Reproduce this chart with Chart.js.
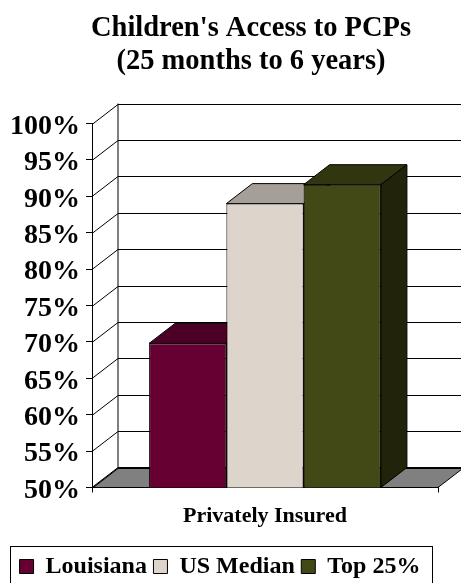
<!DOCTYPE html>
<html>
<head>
<meta charset="utf-8">
<title>Children's Access to PCPs</title>
<script src="https://cdn.jsdelivr.net/npm/chart.js@4"></script>
<style>
  html, body { margin: 0; padding: 0; background: #fff; overflow: hidden; }
  canvas { display: block; }
</style>
</head>
<body>
<canvas id="pcpChart" width="461" height="583"></canvas>
<script>
const categories = ['Privately Insured'];
const seriesNames = ['Louisiana', 'US Median', 'Top 25%'];
const louisiana = [69.8];
const usMedian = [89];
const top25 = [91.6];

const frontColors = ['#660033', '#DDD5CC', '#424816'];
const topColors = ['#4D0026', '#A69F99', '#31360F'];
const sideColors = ['#33001A', '#6F6A66', '#21240A'];
const serifFont = '"Liberation Serif", "Times New Roman", serif';

// how far the back wall sits from the front plane
const depthX = 26;
const depthY = 20;

const polygon = (ctx, points, fill) => {
  ctx.beginPath();
  points.forEach((p, i) => (i ? ctx.lineTo(p[0], p[1]) : ctx.moveTo(p[0], p[1])));
  ctx.closePath();
  if (fill) {
    ctx.fillStyle = fill;
    ctx.fill();
  }
  ctx.stroke();
};

const line = (ctx, x1, y1, x2, y2) => {
  ctx.beginPath();
  ctx.moveTo(x1, y1);
  ctx.lineTo(x2, y2);
  ctx.stroke();
};

const box3d = {
  id: 'box3d',
  afterLayout(chart) {
    // title and legend are not centred on the canvas in the original
    chart.titleBlock.left = 41;
    chart.titleBlock.right = 461;
    chart.legend.left = 10;
    chart.legend.right = 430;
    chart.legend.top = 548;
  },
  beforeDraw(chart) {
    // tick labels sit slightly under their tick marks
    chart.scales.y.getLabelItems().forEach(item => { item.textOffset += 3; });
  },
  beforeDatasetsDraw(chart) {
    const { ctx, chartArea: area, scales } = chart;
    ctx.save();
    ctx.strokeStyle = '#000';
    ctx.lineWidth = 1;
    const backBottom = area.bottom - depthY;
    polygon(ctx, [
      [area.left, area.bottom],
      [area.left + depthX, backBottom],
      [area.right + depthX, backBottom],
      [area.right, area.bottom]
    ], '#808080');
    scales.y.ticks.forEach(tick => {
      const y = Math.round(scales.y.getPixelForValue(tick.value)) + 0.5;
      line(ctx, area.left, y, area.left + depthX, y - depthY);
      line(ctx, area.left + depthX, y - depthY, area.right + depthX, y - depthY);
    });
    line(ctx, area.left + depthX, area.top - depthY, area.left + depthX, backBottom);

    // top and side faces go in behind all the front faces
    seriesNames.forEach((name, i) => {
      const bar = chart.getDatasetMeta(i).data[0];
      const x0 = bar.x - bar.width / 2;
      const x1 = bar.x + bar.width / 2;
      polygon(ctx, [
        [x0, bar.y],
        [x0 + depthX, bar.y - depthY],
        [x1 + depthX, bar.y - depthY],
        [x1, bar.y]
      ], topColors[i]);
      polygon(ctx, [
        [x1, bar.y],
        [x1 + depthX, bar.y - depthY],
        [x1 + depthX, area.bottom - depthY],
        [x1, area.bottom]
      ], sideColors[i]);
    });
    ctx.restore();
  },
  afterDraw(chart) {
    const { ctx, legend } = chart;
    ctx.save();
    ctx.strokeStyle = '#000';
    ctx.lineWidth = 1;
    ctx.strokeRect(10.5, 546.5, 422, 40);
    ctx.restore();
  }
};

const values = [louisiana, usMedian, top25];

new Chart(document.getElementById('pcpChart').getContext('2d'), {
  type: 'bar',
  data: {
    labels: categories,
    datasets: seriesNames.map((name, i) => ({
      label: name,
      data: values[i],
      backgroundColor: frontColors[i],
      borderColor: '#000',
      borderWidth: 1
    }))
  },
  options: {
    responsive: false,
    animation: false,
    events: [],
    layout: { padding: { left: 0, right: 23, top: 0, bottom: 0 } },
    datasets: { bar: { categoryPercentage: 0.67, barPercentage: 1 } },
    scales: {
      x: {
        afterFit: scale => { scale.height = 55; },
        border: { color: '#000', width: 1 },
        grid: { drawOnChartArea: false, color: '#000', tickLength: 5 },
        ticks: { color: '#000', padding: 11, font: { family: serifFont, size: 22, weight: 'bold' } }
      },
      y: {
        min: 50,
        max: 100,
        afterFit: scale => { scale.width = 92; },
        border: { color: '#000', width: 1 },
        grid: { drawOnChartArea: false, color: '#000', tickLength: 6 },
        ticks: {
          stepSize: 5,
          autoSkip: false,
          color: '#000',
          padding: 6,
          callback: value => value + '%',
          font: { family: serifFont, size: 28, weight: 'bold' }
        }
      }
    },
    plugins: {
      tooltip: { enabled: false },
      title: {
        display: true,
        text: ["Children's Access to PCPs", '(25 months to 6 years)'],
        color: '#000',
        font: { family: serifFont, size: 28.5, weight: 'bold', lineHeight: 1.15 },
        padding: { top: 12, bottom: 46 }
      },
      legend: {
        position: 'bottom',
        labels: {
          color: '#000',
          boxWidth: 14,
          boxHeight: 14,
          padding: 6.5,
          font: { family: serifFont, size: 24, weight: 'bold' }
        }
      }
    }
  },
  plugins: [box3d]
});
</script>
</body>
</html>
